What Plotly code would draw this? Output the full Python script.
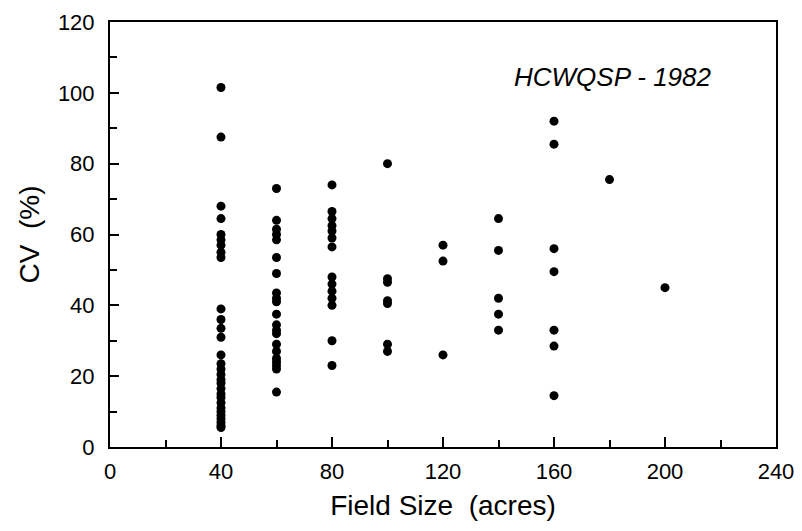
import plotly.graph_objects as go

# field size (acres) per observation group
x40 = [40] * 30
cv40 = [101.5, 87.5, 68, 64.5, 60, 58.5, 57, 55, 53.5,
        39, 36, 33.5, 31, 26, 23.5, 22, 20.5, 19, 18, 16.5,
        15, 14, 12.5, 11, 10, 9, 8, 7, 6, 5.5]
x60 = [60] * 21
cv60 = [73, 64, 61.5, 60, 58.5, 53.5, 49, 43.5, 42, 41, 37.5,
        34.5, 33, 32, 29, 27, 25, 24, 23, 22, 15.5]
x80 = [80] * 14
cv80 = [74, 66.5, 64.5, 62.5, 61, 59, 56.5, 48, 46, 44, 42, 40, 30, 23]
x100 = [100] * 7
cv100 = [80, 47.5, 46.5, 41.3, 40.5, 29, 27]
x120 = [120] * 3
cv120 = [57, 52.5, 26]
x140 = [140] * 5
cv140 = [64.5, 55.5, 42, 37.5, 33]
x160 = [160] * 7
cv160 = [92, 85.5, 56, 49.5, 33, 28.5, 14.5]
x180 = [180]
cv180 = [75.5]
x200 = [200]
cv200 = [45]

xs = x40 + x60 + x80 + x100 + x120 + x140 + x160 + x180 + x200
ys = cv40 + cv60 + cv80 + cv100 + cv120 + cv140 + cv160 + cv180 + cv200

fig = go.Figure()
fig.add_trace(go.Scatter(
    x=xs, y=ys, mode="markers",
    marker=dict(color="black", size=9),
    showlegend=False,
))

font = "Liberation Sans, Arial, sans-serif"

# page body has an 8px margin, so the figure is a little smaller than the window
fig.update_layout(
    width=794, height=523,
    margin=dict(l=102, r=26, t=14, b=84),
    paper_bgcolor="white", plot_bgcolor="white",
    font=dict(family=font, color="black", size=22),
    annotations=[dict(
        x=0.755, y=0.91, xref="paper", yref="paper", xanchor="center",
        text="<i>HCWQSP - 1982</i>", showarrow=False,
        font=dict(size=26, family=font),
    )],
)
fig.update_xaxes(
    range=[0, 240], dtick=40, tick0=0, automargin=False,
    ticks="inside", ticklen=10, tickwidth=1.5, tickcolor="black",
    ticklabelstandoff=4, ticklabeloverflow="allow",
    minor=dict(dtick=20, ticks="inside", ticklen=7, tickwidth=1.5, tickcolor="black"),
    showline=True, linecolor="black", linewidth=2, mirror=True,
    showgrid=False, zeroline=False,
    title=dict(text="Field Size  (acres)", font=dict(size=28), standoff=12),
)
fig.update_yaxes(
    range=[0, 120], dtick=20, tick0=0, automargin=False,
    ticks="inside", ticklen=9, tickwidth=1.5, tickcolor="black",
    ticklabelstandoff=9, ticklabeloverflow="allow",
    minor=dict(dtick=10, ticks="inside", ticklen=7, tickwidth=1.5, tickcolor="black"),
    showline=True, linecolor="black", linewidth=2, mirror=True,
    showgrid=False, zeroline=False,
    title=dict(text="CV  (%)", font=dict(size=28), standoff=10),
)

fig.write_html("out.html")
